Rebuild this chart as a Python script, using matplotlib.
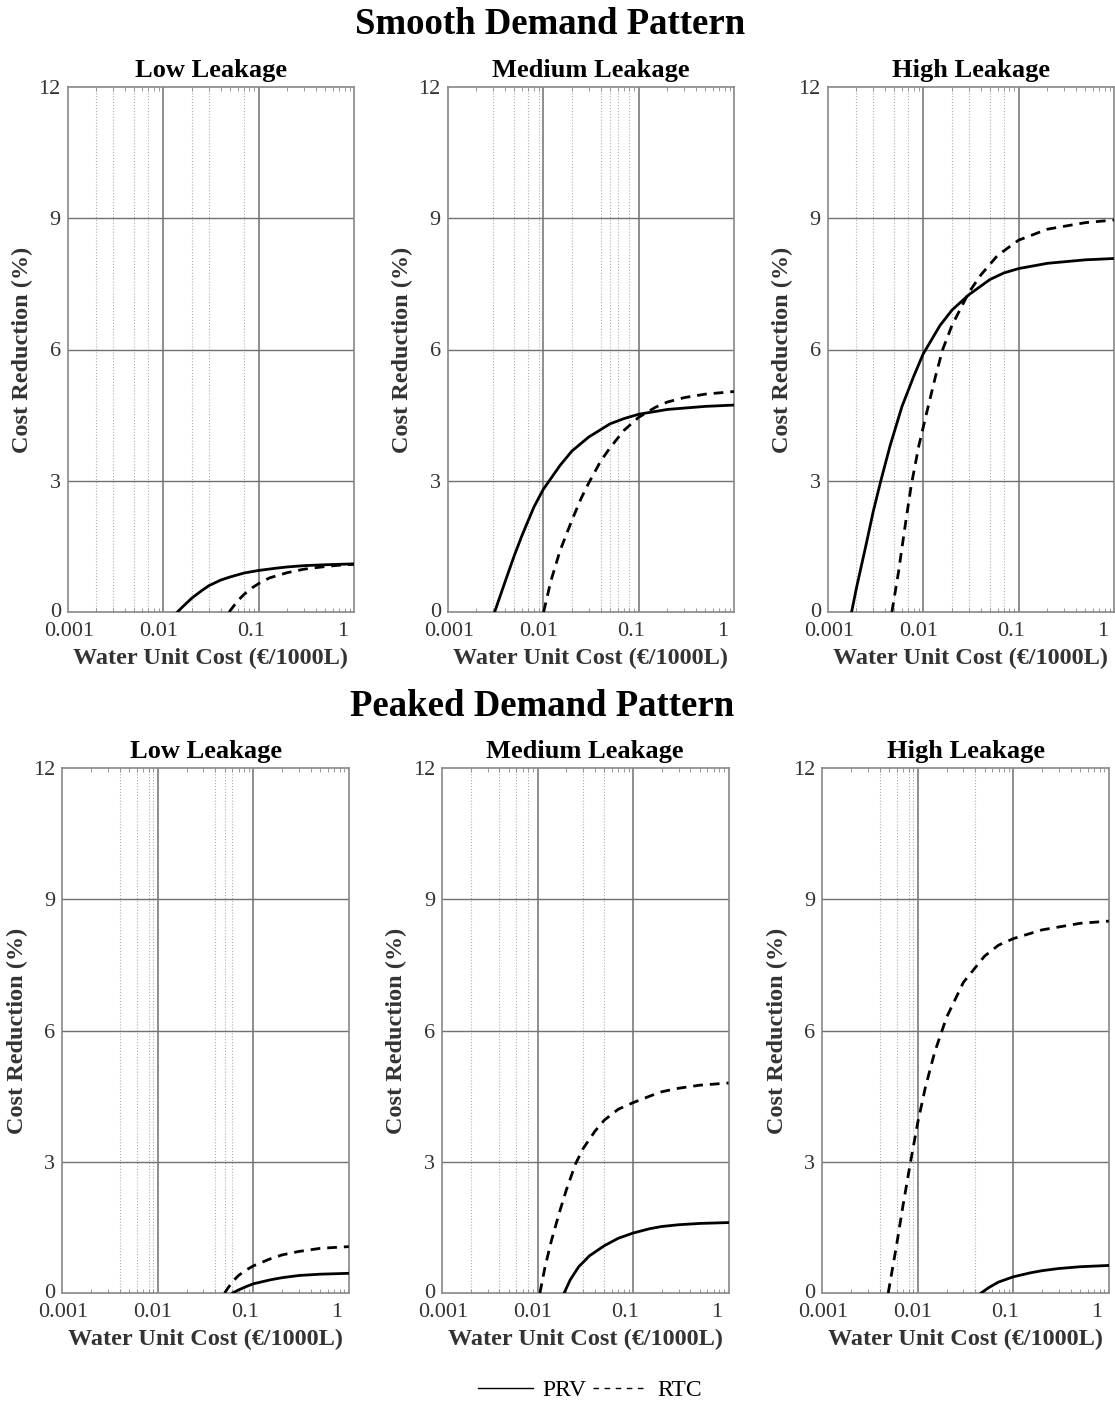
import matplotlib
matplotlib.use("Agg")
import matplotlib.pyplot as plt
from matplotlib.transforms import ScaledTranslation

plt.rcParams['font.family'] = ['Liberation Serif', 'DejaVu Serif']

rows = ['Smooth Demand Pattern', 'Peaked Demand Pattern']
cols = ['Low Leakage', 'Medium Leakage', 'High Leakage']

# x = water unit cost, y = cost reduction (%)
prv_x = [
    [0.0141, 0.016, 0.02, 0.025, 0.03, 0.04, 0.05, 0.07, 0.1, 0.15, 0.2, 0.3, 0.5, 0.7, 1.0],
    [0.0031, 0.004, 0.005, 0.006, 0.007, 0.008, 0.01, 0.015, 0.02, 0.03, 0.05, 0.07, 0.1, 0.2, 0.5, 1.0],
    [0.00178, 0.002, 0.0025, 0.003, 0.0036, 0.0045, 0.006, 0.008, 0.01, 0.015, 0.02, 0.03, 0.05, 0.07, 0.1, 0.2, 0.5, 1.0],
    [0.061, 0.07, 0.085, 0.1, 0.15, 0.2, 0.3, 0.5, 1.0],
    [0.019, 0.022, 0.027, 0.035, 0.05, 0.07, 0.1, 0.15, 0.2, 0.3, 0.5, 1.0],
    [0.046, 0.055, 0.07, 0.1, 0.15, 0.2, 0.3, 0.5, 1.0],
]
prv_y = [
    [0, 0.12, 0.32, 0.48, 0.6, 0.73, 0.8, 0.89, 0.95, 1.0, 1.03, 1.06, 1.08, 1.09, 1.1],
    [0, 0.7, 1.3, 1.75, 2.1, 2.4, 2.8, 3.35, 3.68, 4.0, 4.3, 4.42, 4.52, 4.63, 4.7, 4.73],
    [0, 0.55, 1.5, 2.3, 3.0, 3.8, 4.7, 5.4, 5.9, 6.55, 6.9, 7.25, 7.6, 7.75, 7.85, 7.97, 8.05, 8.08],
    [0, 0.07, 0.15, 0.21, 0.3, 0.35, 0.4, 0.43, 0.45],
    [0, 0.3, 0.6, 0.85, 1.08, 1.25, 1.37, 1.47, 1.52, 1.56, 1.59, 1.61],
    [0, 0.12, 0.25, 0.37, 0.46, 0.51, 0.56, 0.6, 0.63],
]
rtc_x = [
    [0.049, 0.06, 0.07, 0.085, 0.1, 0.13, 0.2, 0.3, 0.5, 0.7, 1.0],
    [0.0101, 0.012, 0.015, 0.02, 0.025, 0.03, 0.04, 0.05, 0.07, 0.1, 0.15, 0.2, 0.3, 0.5, 1.0],
    [0.0047, 0.0055, 0.0065, 0.0075, 0.009, 0.011, 0.0135, 0.016, 0.02, 0.03, 0.04, 0.06, 0.1, 0.2, 0.5, 1.0],
    [0.05, 0.06, 0.07, 0.085, 0.1, 0.15, 0.2, 0.3, 0.5, 0.7, 1.0],
    [0.0106, 0.012, 0.014, 0.017, 0.02, 0.025, 0.03, 0.04, 0.05, 0.07, 0.1, 0.15, 0.2, 0.3, 0.5, 1.0],
    [0.0049, 0.006, 0.007, 0.0084, 0.01, 0.012, 0.015, 0.02, 0.03, 0.05, 0.07, 0.1, 0.2, 0.5, 1.0],
]
rtc_y = [
    [0, 0.25, 0.4, 0.55, 0.65, 0.78, 0.9, 0.98, 1.04, 1.07, 1.09],
    [0, 0.7, 1.4, 2.1, 2.6, 2.95, 3.45, 3.75, 4.15, 4.45, 4.68, 4.8, 4.9, 4.98, 5.04],
    [0, 0.9, 2.0, 2.9, 3.8, 4.6, 5.4, 6.0, 6.55, 7.3, 7.7, 8.15, 8.5, 8.75, 8.9, 8.96],
    [0, 0.25, 0.4, 0.53, 0.62, 0.78, 0.87, 0.95, 1.02, 1.04, 1.06],
    [0, 0.6, 1.2, 1.85, 2.35, 2.95, 3.3, 3.7, 3.95, 4.2, 4.35, 4.5, 4.6, 4.68, 4.75, 4.8],
    [0, 1.1, 2.0, 3.0, 3.9, 4.7, 5.5, 6.3, 7.1, 7.7, 7.95, 8.1, 8.3, 8.45, 8.5],
]
# dotted minor grid lines that show in each panel
minor_grid = [
    [0.002, 0.003, 0.005, 0.007, 0.02, 0.03, 0.07],
    [0.003, 0.005, 0.007, 0.009, 0.02, 0.04, 0.05, 0.06, 0.08],
    [0.002, 0.003, 0.005, 0.007, 0.02, 0.03, 0.05, 0.07],
    [0.004, 0.006, 0.008, 0.009, 0.04, 0.05, 0.06],
    [0.002, 0.004, 0.006, 0.008, 0.03, 0.05],
    [0.004, 0.006, 0.008, 0.009, 0.04],
]
xticks = [0.001, 0.01, 0.1, 1]
xticklabels = ['0.001', '0.01', '0.1', '1']
yticks = [0, 3, 6, 9, 12]

W, H = 1115, 1403
fig = plt.figure(figsize=(W / 100, H / 100), dpi=100)

lefts = [[67.7, 447.7, 827.7], [62.3, 442, 822.3]]
tops = [87, 768]
aw, ah = 286.5, 525
label_shift = [1, -5, -8, -12]

for r in range(2):
    for c in range(3):
        i = r * 3 + c
        ax = fig.add_axes([lefts[r][c] / W, 1 - (tops[r] + ah) / H, aw / W, ah / H])
        ax.set_xscale('log')
        ax.set_xlim(0.001, 1)
        ax.set_ylim(0, 12)
        for g in minor_grid[i]:
            ax.axvline(g, color='#b0b0b0', lw=0.8, ls=':', zorder=1)
        for g in [0.01, 0.1]:
            ax.axvline(g, color='#7a7a7a', lw=1.2, zorder=1)
        for g in [3, 6, 9]:
            ax.axhline(g, color='#707070', lw=1.0, zorder=1)
        ax.plot(prv_x[i], prv_y[i], color='black', lw=2.0, zorder=3)
        ax.plot(rtc_x[i], rtc_y[i], color='black', lw=2.0, ls=(0, (3.5, 2.5)), zorder=3)

        ax.set_xticks(xticks)
        ax.set_xticklabels(xticklabels)
        ax.set_yticks(yticks)
        ax.tick_params(axis='both', which='major', length=0, labelsize=16, colors='#333333')
        ax.tick_params(axis='x', which='major', pad=7.5)
        ax.tick_params(axis='y', which='major', pad=5)
        ax.tick_params(axis='x', which='minor', direction='in', top=True, bottom=True,
                       length=3, color='#888888', labelbottom=False)
        for lab, dx in zip(ax.get_xticklabels(), label_shift):
            lab.set_transform(lab.get_transform() + ScaledTranslation(dx / 100, 0, fig.dpi_scale_trans))
        ylab0 = ax.get_yticklabels()[0]
        ylab0.set_transform(ylab0.get_transform() + ScaledTranslation(0, 2 / 100, fig.dpi_scale_trans))
        for s in ax.spines.values():
            s.set_color('#888888')
            s.set_linewidth(1.2)

        ax.set_title(cols[c], fontsize=19, fontweight='bold', pad=7)
        ax.set_xlabel('Water Unit Cost (€/1000L)', fontsize=17.5, fontweight='bold',
                      color='#333333', labelpad=5)
        ax.set_ylabel('Cost Reduction (%)', fontsize=17.5, fontweight='bold',
                      color='#333333', labelpad=4)

fig.text(550 / W, 1 - 25 / H, rows[0], ha='center', va='center', fontsize=26.5, fontweight='bold')
fig.text(542 / W, 1 - 706 / H, rows[1], ha='center', va='center', fontsize=26.5, fontweight='bold')

h1, = plt.plot([], [], color='black', lw=1)
h2, = plt.plot([], [], color='black', lw=1, ls=(0, (4, 4)))
fig.legend([h1, h2], ['PRV', 'RTC'], loc='center', bbox_to_anchor=(590 / W, 1 - 1390 / H),
           ncol=2, frameon=False, fontsize=17, handlelength=2.3, handletextpad=0.4,
           columnspacing=0.3)

fig.savefig('out.png', dpi=100)
